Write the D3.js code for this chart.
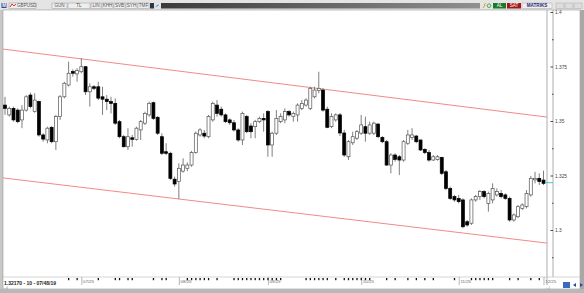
<!DOCTYPE html>
<html>
<head>
<meta charset="utf-8">
<script src="https://cdn.jsdelivr.net/npm/d3@7"></script>
<style>
  body { margin: 0; background: #d8d8d8; }
  svg { display: block; font-family: "Liberation Sans", "DejaVu Sans", sans-serif; }
</style>
</head>
<body>
<div id="chart"></div>
<script>
// Daily GBPUSD candles, one per weekday (index 0 .. 127)
const opens = [1.3573,1.3528,1.3558,1.3550,1.3505,1.3550,1.3619,1.3543,1.3589,1.3436,1.3413,1.3471,1.3405,1.3520,1.3611,1.3665,1.3727,1.3716,1.3726,1.3749,
  1.3634,1.3657,1.3657,1.3611,1.3600,1.3589,1.3581,1.3497,1.3428,1.3382,1.3423,1.3416,1.3459,1.3490,1.3528,1.3584,1.3517,1.3428,1.3359,1.3352,
  1.3233,1.3222,1.3270,1.3283,1.3298,1.3355,1.3436,1.3444,1.3428,1.3505,1.3573,1.3554,1.3528,1.3505,1.3492,1.3459,1.3413,1.3520,1.3477,1.3474,
  1.3497,1.3512,1.3543,1.3390,1.3444,1.3497,1.3505,1.3543,1.3520,1.3528,1.3558,1.3573,1.3558,1.3611,1.3640,1.3642,1.3554,1.3474,1.3505,1.3528,
  1.3445,1.3336,1.3400,1.3421,1.3444,1.3474,1.3444,1.3444,1.3486,1.3425,1.3405,1.3298,1.3344,1.3336,1.3321,1.3398,1.3425,1.3431,1.3413,1.3370,
  1.3355,1.3321,1.3324,1.3333,1.3267,1.3191,1.3153,1.3145,1.3138,1.3038,1.3031,1.3138,1.3153,1.3176,1.3122,1.3138,1.3161,1.3168,1.3161,1.3145,
  1.3046,1.3061,1.3099,1.3107,1.3161,1.3230,1.3237,1.3229]
const closes = [1.3558,1.3558,1.3505,1.3497,1.3550,1.3611,1.3566,1.3596,1.3436,1.3417,1.3467,1.3405,1.3520,1.3611,1.3673,1.3719,1.3719,1.3731,1.3749,1.3634,
  1.3657,1.3650,1.3605,1.3600,1.3589,1.3581,1.3490,1.3428,1.3382,1.3428,1.3416,1.3467,1.3497,1.3535,1.3581,1.3512,1.3444,1.3352,1.3352,1.3237,
  1.3211,1.3283,1.3298,1.3298,1.3355,1.3444,1.3459,1.3431,1.3520,1.3581,1.3535,1.3528,1.3497,1.3492,1.3459,1.3413,1.3535,1.3451,1.3451,1.3497,
  1.3512,1.3505,1.3390,1.3444,1.3512,1.3520,1.3543,1.3528,1.3535,1.3573,1.3581,1.3596,1.3650,1.3642,1.3650,1.3550,1.3471,1.3520,1.3528,1.3445,
  1.3344,1.3405,1.3428,1.3451,1.3482,1.3444,1.3482,1.3490,1.3428,1.3405,1.3298,1.3344,1.3324,1.3321,1.3405,1.3436,1.3436,1.3405,1.3367,1.3355,
  1.3321,1.3336,1.3336,1.3260,1.3191,1.3145,1.3138,1.3130,1.3015,1.3023,1.3138,1.3153,1.3176,1.3153,1.3168,1.3191,1.3176,1.3153,1.3145,1.3046,
  1.3069,1.3107,1.3115,1.3168,1.3237,1.3237,1.3222,1.3214]
const highs = [1.3611,1.3566,1.3566,1.3558,1.3573,1.3619,1.3630,1.3627,1.3593,1.3444,1.3474,1.3477,1.3528,1.3619,1.3680,1.3772,1.3737,1.3742,1.3788,1.3752,
  1.3673,1.3665,1.3680,1.3657,1.3619,1.3611,1.3604,1.3505,1.3436,1.3467,1.3436,1.3474,1.3505,1.3543,1.3589,1.3589,1.3523,1.3444,1.3398,1.3359,
  1.3245,1.3306,1.3329,1.3310,1.3363,1.3452,1.3467,1.3459,1.3528,1.3589,1.3596,1.3566,1.3535,1.3512,1.3505,1.3467,1.3543,1.3528,1.3490,1.3505,
  1.3520,1.3535,1.3550,1.3451,1.3550,1.3535,1.3558,1.3550,1.3543,1.3581,1.3596,1.3604,1.3657,1.3657,1.3726,1.3650,1.3566,1.3535,1.3535,1.3537,
  1.3459,1.3413,1.3451,1.3459,1.3528,1.3520,1.3497,1.3497,1.3490,1.3431,1.3413,1.3352,1.3352,1.3344,1.3413,1.3459,1.3467,1.3436,1.3413,1.3375,
  1.3367,1.3344,1.3344,1.3336,1.3275,1.3199,1.3161,1.3161,1.3145,1.3046,1.3145,1.3161,1.3183,1.3183,1.3176,1.3214,1.3191,1.3183,1.3168,1.3153,
  1.3076,1.3115,1.3122,1.3183,1.3248,1.3267,1.3260,1.3272]
const lows = [1.3528,1.3520,1.3497,1.3490,1.3467,1.3543,1.3558,1.3538,1.3428,1.3405,1.3398,1.3398,1.3367,1.3505,1.3604,1.3658,1.3703,1.3680,1.3719,1.3619,
  1.3566,1.3642,1.3596,1.3528,1.3550,1.3535,1.3482,1.3421,1.3379,1.3367,1.3382,1.3410,1.3413,1.3482,1.3520,1.3505,1.3436,1.3344,1.3344,1.3229,
  1.3199,1.3142,1.3263,1.3270,1.3290,1.3350,1.3428,1.3421,1.3421,1.3497,1.3520,1.3520,1.3490,1.3482,1.3452,1.3405,1.3390,1.3444,1.3421,1.3421,
  1.3490,1.3451,1.3336,1.3336,1.3436,1.3490,1.3490,1.3520,1.3497,1.3497,1.3550,1.3566,1.3550,1.3604,1.3627,1.3543,1.3467,1.3467,1.3497,1.3431,
  1.3335,1.3321,1.3390,1.3413,1.3436,1.3405,1.3436,1.3436,1.3421,1.3398,1.3294,1.3260,1.3313,1.3252,1.3313,1.3390,1.3413,1.3398,1.3363,1.3348,
  1.3313,1.3317,1.3318,1.3252,1.3183,1.3138,1.3130,1.3122,1.3008,1.3015,1.3023,1.3130,1.3138,1.3145,1.3084,1.3122,1.3153,1.3145,1.3138,1.3038,
  1.3038,1.3054,1.3092,1.3099,1.3153,1.3214,1.3206,1.3206]

// Regression channel ends [index, price]
const channelUpper = [[-0.5, 1.3830], [127.8, 1.3518]]
const channelLower = [[-0.5, 1.3239], [127.8, 1.2940]]

const priceTicks = [1.4, 1.375, 1.35, 1.325, 1.3]
const priceTickLabels = ["1.4", "1.375", "1.35", "1.325", "1.3"]
const minorTicks = [1.3875, 1.3625, 1.3375, 1.3125, 1.2875]
const lastPrice = 1.3217

const monthIdx = [18, 41, 62, 84, 107, 127]
const monthLabels = ["07/25", "08/25", "09/25", "10/25", "11/25", "12/25"]
// small event marks along the time axis
const eventIdx = [15, 17, 22, 26, 27, 29, 30, 35, 37, 38, 43, 44, 45, 46, 47, 48, 50, 54, 55, 56, 57, 58, 59, 60, 61,
  62, 63, 64, 65, 71, 72, 73, 74, 75, 76, 78, 80, 81, 82, 83, 84, 85, 86, 90, 92, 95, 97, 99, 101, 106,
  110, 111, 112, 113, 114, 115, 119, 121, 124, 126]

const toolButtons = [["GUN", 52, 15], ["TL", 68, 22], ["LIN", 91, 10], ["KHH", 102, 11], ["SVB", 114, 11], ["SYH", 126, 11], ["TMF", 138, 11]]

const W = 584, H = 293
const plot = { left: 3, right: 547, top: 10, bottom: 277 }

const x = d3.scaleLinear().domain([0, opens.length - 1]).range([5, 543.5])
const y = d3.scaleLinear().domain([1.3, 1.4]).range([230, 12])

const svg = d3.select("#chart").append("svg").attr("width", W).attr("height", H)

// window chrome
svg.append("rect").attr("width", W).attr("height", H).attr("fill", "#c8c8c8")
svg.append("rect").attr("x", 0).attr("y", 0).attr("width", W).attr("height", 10).attr("fill", "#e4e4e4")
svg.append("rect").attr("x", 3).attr("y", 10).attr("width", 577).attr("height", 279).attr("fill", "#fff")
  .attr("stroke", "#999").attr("stroke-width", 0.6)
svg.append("rect").attr("x", 580).attr("y", 10).attr("width", 4).attr("height", 283).attr("fill", "#a8a8a8")

// toolbar
const tb = svg.append("g").style("font-size", "4.6px")
tb.append("rect").attr("x", 1.5).attr("y", 3).attr("width", 5).attr("height", 5).attr("fill", "#2a4a9a")
tb.append("text").attr("x", 2.3).attr("y", 7.3).attr("fill", "#fff").style("font-size", "4.5px").style("font-weight", "bold").text("M")
tb.append("rect").attr("x", 9).attr("y", 3).attr("width", 27).attr("height", 5.5).attr("fill", "#eee").attr("stroke", "#999").attr("stroke-width", 0.5)
tb.append("path").attr("d", "M10,7 L12,4 L14,6 L16,4").attr("stroke", "#d02020").attr("fill", "none").attr("stroke-width", 0.9)
tb.append("text").attr("x", 17).attr("y", 7.4).attr("fill", "#555").text("GBPUSD")
toolButtons.forEach(([t, bx, bw]) => {
  tb.append("rect").attr("x", bx).attr("y", 3).attr("width", bw).attr("height", 5.5).attr("fill", "#eee").attr("stroke", "#999").attr("stroke-width", 0.5)
  tb.append("text").attr("x", bx + bw / 2).attr("y", 7.4).attr("text-anchor", "middle").attr("fill", "#555").text(t)
})
tb.append("rect").attr("x", 150).attr("y", 3).attr("width", 4).attr("height", 5.5).attr("fill", "#334")
tb.append("path").attr("d", "M155,7.5 Q157,4 159,4.5 L158,6 Z").attr("fill", "#3aa0e0")
const grad = svg.append("defs").append("linearGradient").attr("id", "bar")
grad.append("stop").attr("offset", "0").attr("stop-color", "#3a3a3a")
grad.append("stop").attr("offset", "1").attr("stop-color", "#909090")
tb.append("rect").attr("x", 161).attr("y", 3).attr("width", 319).attr("height", 5.5).attr("fill", "url(#bar)")
tb.append("path").attr("d", "M483,8 L485,5 L484,5 L486,3").attr("stroke", "#e0a020").attr("fill", "none").attr("stroke-width", 1)
tb.append("circle").attr("cx", 489).attr("cy", 5.7).attr("r", 1.8).attr("fill", "none").attr("stroke", "#2a9a3a").attr("stroke-width", 0.8)
tb.append("rect").attr("x", 493).attr("y", 3).attr("width", 13).attr("height", 5.5).attr("fill", "#1a7a2a")
tb.append("text").attr("x", 499.5).attr("y", 7.4).attr("text-anchor", "middle").attr("fill", "#fff").text("AL")
tb.append("rect").attr("x", 507).attr("y", 3).attr("width", 14).attr("height", 5.5).attr("fill", "#a01818")
tb.append("text").attr("x", 514).attr("y", 7.4).attr("text-anchor", "middle").attr("fill", "#fff").text("SAT")
tb.append("rect").attr("x", 522).attr("y", 3).attr("width", 30).attr("height", 5.5).attr("fill", "#eee").attr("stroke", "#aaa").attr("stroke-width", 0.5)
tb.append("text").attr("x", 537).attr("y", 7.4).attr("text-anchor", "middle").attr("fill", "#2a2a7a").style("font-weight", "bold").text("MATRIKS")
;[556, 565, 574].forEach(bx => {
  tb.append("rect").attr("x", bx).attr("y", 3).attr("width", 8).attr("height", 5.5).attr("fill", "#ddd").attr("stroke", "#aaa").attr("stroke-width", 0.5)
})

// plot borders and right axis strip
svg.append("line").attr("x1", plot.right).attr("x2", plot.right).attr("y1", plot.top).attr("y2", plot.bottom + 8).attr("stroke", "#999").attr("stroke-width", 0.8)
svg.append("line").attr("x1", 553).attr("x2", 553).attr("y1", plot.top).attr("y2", plot.bottom).attr("stroke", "#999").attr("stroke-width", 0.8)
svg.append("line").attr("x1", plot.left).attr("x2", 580).attr("y1", plot.bottom).attr("y2", plot.bottom).attr("stroke", "#bbb").attr("stroke-width", 0.6)

svg.append("clipPath").attr("id", "clip").append("rect")
  .attr("x", plot.left).attr("y", plot.top).attr("width", plot.right - plot.left).attr("height", plot.bottom - plot.top)

const g = svg.append("g").attr("clip-path", "url(#clip)")

// channel lines
const line = d3.line().x(d => x(d[0])).y(d => y(d[1]))
;[channelUpper, channelLower].forEach(c => {
  g.append("path").attr("d", line(c)).attr("fill", "none").attr("stroke", "#f08a8a").attr("stroke-width", 1)
})

// candles
const idx = d3.range(opens.length)
g.selectAll(".wick").data(idx).join("line")
  .attr("x1", i => x(i)).attr("x2", i => x(i))
  .attr("y1", i => y(highs[i])).attr("y2", i => y(lows[i]))
  .attr("stroke", "#707070").attr("stroke-width", 0.9)
g.selectAll(".body").data(idx).join("rect")
  .attr("x", i => x(i) - 1.5).attr("width", 3)
  .attr("y", i => y(Math.max(opens[i], closes[i])))
  .attr("height", i => Math.max(1, Math.abs(y(opens[i]) - y(closes[i]))))
  .attr("fill", i => closes[i] >= opens[i] ? "#fff" : "#000")
  .attr("stroke", i => closes[i] >= opens[i] ? "#555" : "#000")
  .attr("stroke-width", 0.7)

// right price axis
const yAxis = svg.append("g").attr("transform", "translate(550.5,0)")
  .call(d3.axisRight(y).tickValues(priceTicks).tickSize(2.5).tickPadding(2)
    .tickFormat((d, k) => priceTickLabels[k]))
yAxis.select(".domain").remove()
yAxis.selectAll("line").attr("stroke", "#444")
yAxis.selectAll("text").attr("fill", "#444").style("font-size", "4.8px").attr("dy", "0.35em")
  .attr("font-family", "Liberation Sans, sans-serif")
const yMinor = svg.append("g").attr("transform", "translate(552,0)")
  .call(d3.axisRight(y).tickValues(minorTicks).tickSize(1.5).tickFormat(""))
yMinor.select(".domain").remove()
yMinor.selectAll("line").attr("stroke", "#444")

// last price marker
svg.append("line").attr("x1", 545).attr("x2", 553).attr("y1", y(lastPrice)).attr("y2", y(lastPrice))
  .attr("stroke", "#40c8e0").attr("stroke-width", 1)

// time axis
const xAxis = svg.append("g").attr("transform", `translate(0,${plot.bottom})`)
  .call(d3.axisBottom(x).tickValues(monthIdx).tickSize(8).tickFormat((d, k) => monthLabels[k]))
xAxis.select(".domain").remove()
xAxis.selectAll("line").attr("stroke", "#888").attr("stroke-width", 0.6)
xAxis.selectAll("text").attr("text-anchor", "start").attr("x", 1.2).attr("y", 4).attr("dy", "0.35em")
  .attr("fill", "#666").style("font-size", "4.4px").attr("font-family", "Liberation Sans, sans-serif")

svg.selectAll(".evt").data(eventIdx).join("rect")
  .attr("x", i => x(i) - 0.6).attr("y", plot.bottom + 1).attr("width", 1.3).attr("height", 2.2).attr("fill", "#111")

// status line
svg.append("text").attr("x", 4).attr("y", 284.5).attr("fill", "#222")
  .style("font-size", "5px").style("font-weight", "bold").text("1.32170 - 10 - 07/48/19")
svg.append("text").attr("x", 4).attr("y", 289).attr("fill", "#777").style("font-size", "3.5px").text("..ıl")
svg.append("text").attr("x", 545).attr("y", 289).attr("fill", "#777").style("font-size", "3.5px").text(".:..l")

// bottom right controls
svg.append("rect").attr("x", 563).attr("y", 282).attr("width", 7).attr("height", 6).attr("fill", "#3a6ac0")
svg.append("path").attr("d", "M573,285 L576,283 L576,287 Z M583,285 L580,283 L580,287 Z").attr("fill", "#2a4a9a")
svg.append("rect").attr("x", 0).attr("y", 289).attr("width", W).attr("height", 4).attr("fill", "#b8b8b8")
</script>
</body>
</html>
